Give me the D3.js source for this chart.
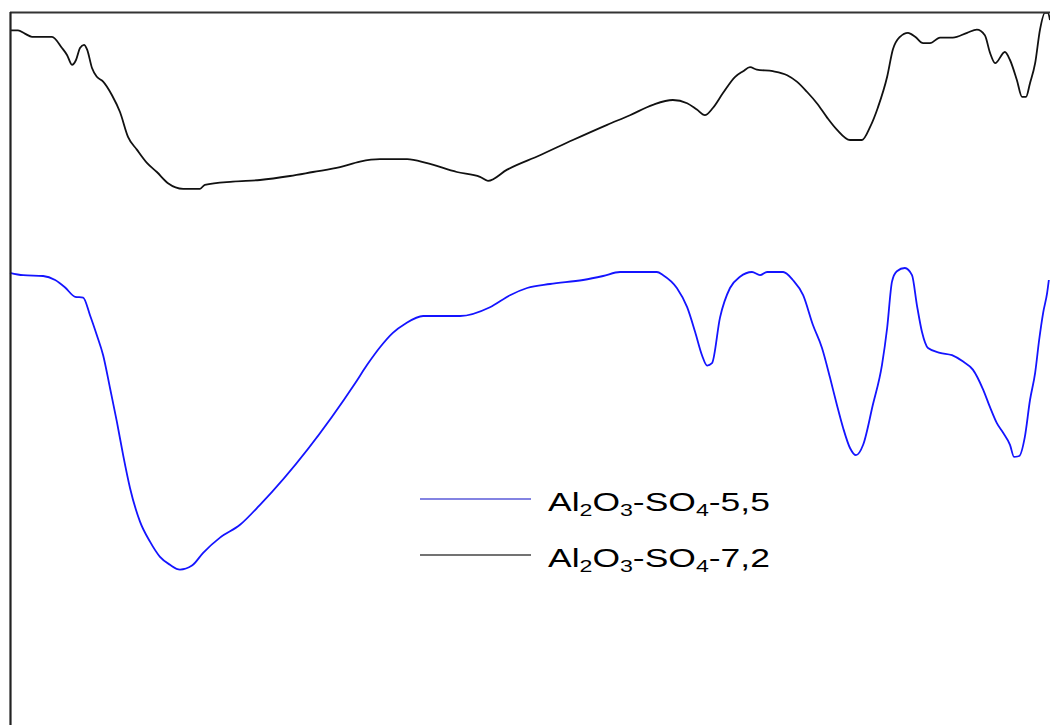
<!DOCTYPE html>
<html>
<head>
<meta charset="utf-8">
<script src="https://cdn.jsdelivr.net/npm/d3@7/dist/d3.min.js"></script>
<style>
  html, body { margin: 0; padding: 0; background: #fff; }
  svg { display: block; }
</style>
</head>
<body>
<svg id="chart" width="1050" height="725"></svg>
<script>
// IR transmission spectra of sulfated alumina samples (wavenumber, cm-1 / transmittance, %)
const wnSO4_72 = [4000,3972,3948,3923,3853,3818,3800,3783,3769,3755,3741,3730,3713,3696,3674,3643,3615,3587,3556,3520,3486,3447,3394,3335,3318,3220,3125,3020,2940,2845,2775,2705,2610,2540,2436,2355,2327,2260,2145,2030,1910,1830,1750,1680,1630,1596,1568,1540,1504,1462,1434,1410,1386,1330,1280,1246,1210,1176,1140,1106,1060,1018,990,962,930,910,885,857,832,804,780,745,700,650,616,588,570,552,518,500,476,458,444,430,412,395,378,367,360];
const tSO4_72 = [97.7,97.7,97.3,96.9,96.9,95.5,94.6,93.4,94.0,95.5,95.9,95.3,93.0,91.9,91.3,89.6,87.5,84.4,82.8,81.1,80.0,78.6,77.9,77.9,78.4,78.8,79.0,79.5,80.0,80.6,81.3,81.6,81.6,81.1,80.0,79.4,78.9,80.3,82.1,84.0,85.9,87.1,88.4,89.0,88.6,87.8,87.1,88.0,89.9,91.9,92.6,93.1,92.8,92.6,92.1,91.3,90.0,88.6,86.8,85.3,84.0,84.0,85.6,88.1,91.9,95.3,96.9,97.4,96.9,96.1,96.1,96.8,96.8,97.4,97.8,97.1,94.9,93.6,95.0,94.0,91.5,89.4,89.4,91.1,93.6,97.8,99.9,99.9,99.0];

const wnSO4_55 = [4000,3954,3884,3842,3808,3772,3744,3720,3696,3674,3650,3626,3604,3580,3545,3510,3475,3440,3405,3363,3324,3265,3195,3125,2792,2750,2705,2660,2618,2554,2425,2320,2250,2190,2110,1994,1924,1865,1736,1714,1666,1630,1602,1578,1560,1543,1515,1480,1445,1403,1375,1350,1294,1260,1224,1190,1158,1130,1106,1084,1060,1039,1014,980,948,930,913,896,868,843,826,808,787,745,703,664,630,594,570,546,524,500,486,468,448,430,412,398,384,370,364];
const tSO4_55 = [67.4,67.1,67.0,66.5,65.6,64.4,64.3,62.1,59.6,57.1,53.0,48.8,44.6,40.5,36.3,33.8,31.9,30.9,30.3,30.8,32.4,34.3,35.9,38.4,53.6,55.9,58.1,59.9,61.0,62.0,62.0,63.1,64.6,65.5,66.0,66.5,67.0,67.5,67.5,67.1,65.5,63.1,60.0,57.1,55.8,56.1,61.8,65.5,66.9,67.5,67.1,67.5,67.5,66.5,64.6,60.9,58.0,54.3,50.9,48.0,45.5,44.6,45.9,50.9,55.9,60.5,66.3,67.6,68.0,67.1,63.4,60.0,58.0,57.4,57.1,56.3,55.3,52.8,50.6,48.6,47.4,45.9,44.4,44.5,46.9,51.5,54.9,59.0,62.4,64.9,66.5];

const seriesNames = ["SO4-5,5", "SO4-7,2"];
const seriesColors = ["#1414ff", "#111111"];
const legendLineColors = ["#5a5ad8", "#444444"];

const series = [
  { name: seriesNames[0], wn: wnSO4_55, t: tSO4_55, color: seriesColors[0], legendColor: legendLineColors[0] },
  { name: seriesNames[1], wn: wnSO4_72, t: tSO4_72, color: seriesColors[1], legendColor: legendLineColors[1] }
];

const svg = d3.select("#chart");

const x = d3.scaleLinear().domain([4000, 360]).range([10, 1050]);
const y = d3.scaleLinear().domain([0, 100]).range([812, 12]);

const line = d3.line()
  .x(d => x(d[0]))
  .y(d => y(d[1]))
  .curve(d3.curveMonotoneX);

// spectra
series.forEach(s => {
  const pts = s.wn.map((w, i) => [w, s.t[i]]);
  svg.append("path")
    .datum(pts)
    .attr("fill", "none")
    .attr("stroke", s.color)
    .attr("stroke-width", 1.8)
    .attr("stroke-linejoin", "round")
    .attr("d", line);
});

// plot frame (top and left edges)
svg.append("line")
  .attr("x1", x(4000)).attr("x2", x(360))
  .attr("y1", y(100) + 0.5).attr("y2", y(100) + 0.5)
  .attr("stroke", "#333").attr("stroke-width", 2);
svg.append("line")
  .attr("x1", x(4000) + 0.5).attr("x2", x(4000) + 0.5)
  .attr("y1", y(100)).attr("y2", 725)
  .attr("stroke", "#222").attr("stroke-width", 2.2);

// legend
const legend = svg.append("g");
const rowY = [511, 567];
series.forEach((s, i) => {
  const by = rowY[i];
  legend.append("line")
    .attr("x1", 420).attr("x2", 531)
    .attr("y1", by - 12).attr("y2", by - 12)
    .attr("stroke", s.legendColor).attr("stroke-width", 1.3);

  const txt = legend.append("text")
    .attr("x", 0).attr("y", 0)
    .attr("font-family", "Arial, 'Liberation Sans', sans-serif")
    .attr("font-size", 26)
    .attr("fill", "#000");
  const parts = [
    ["Al", 0], ["2", 1], ["O", 0], ["3", 1], ["-SO", 0], ["4", 1], ["-" + s.name.split("-")[1], 0]
  ];
  let shifted = false;
  parts.forEach(([str, sub]) => {
    const ts = txt.append("tspan").text(str);
    if (sub) {
      ts.attr("font-size", 17).attr("dy", shifted ? 0 : 5);
      shifted = true;
    } else if (shifted) {
      ts.attr("dy", -5);
      shifted = false;
    }
  });
  const w = txt.node().getComputedTextLength();
  const sx = 222 / w;
  txt.attr("transform", `translate(548,${by}) scale(${sx},1)`);
});
</script>
</body>
</html>
